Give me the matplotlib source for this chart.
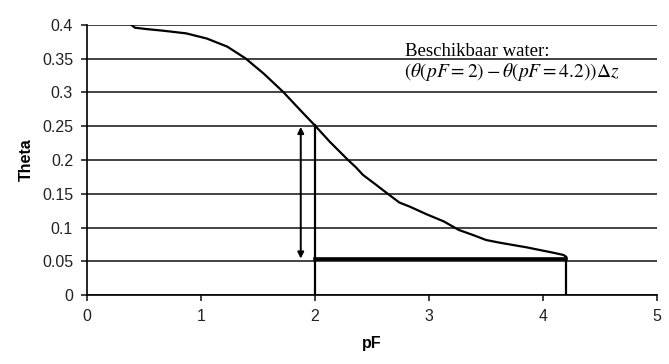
import matplotlib.pyplot as plt
import numpy as np

# retention curve
pf = [0.39, 0.42, 0.52, 0.67, 0.87, 1.05, 1.23, 1.39, 1.55, 1.72, 1.87, 2.00,
      2.13, 2.21, 2.29, 2.36, 2.42, 2.53, 2.63, 2.74, 2.83, 2.98, 3.13, 3.26,
      3.40, 3.50, 3.62, 3.74, 3.86, 3.97, 4.08, 4.18, 4.20]
theta = [0.400, 0.396, 0.394, 0.3915, 0.3876, 0.380, 0.368, 0.3506, 0.328,
         0.301, 0.274, 0.251, 0.227, 0.2135, 0.200, 0.189, 0.178, 0.164,
         0.151, 0.137, 0.131, 0.1195, 0.109, 0.0965, 0.088, 0.0815, 0.0775,
         0.074, 0.0705, 0.0667, 0.063, 0.0593, 0.0568]

pf_fc = 2.0
pf_wp = 4.2
theta_fc = 0.252
theta_wp = 0.053
arrow_x = 1.875

plt.rcParams.update({'font.family': ['Liberation Sans', 'DejaVu Sans'],
                     'mathtext.fontset': 'stix'})

fig = plt.figure(figsize=(6.69, 3.64), dpi=100)
ax = fig.add_axes([87 / 669, 1 - 295 / 364, 570 / 669, 270 / 364])

ax.plot(pf, theta, color='black', lw=1.6, solid_joinstyle='round')

# available water box
ax.plot([pf_fc, pf_fc], [0, theta_fc], color='black', lw=1.6)
ax.plot([pf_wp, pf_wp], [0, 0.0568], color='black', lw=1.6)
ax.plot([pf_fc, pf_wp], [theta_wp, theta_wp], color='black', lw=2.6)
ax.annotate('', xy=(arrow_x, 0.054), xytext=(arrow_x, 0.249),
            arrowprops=dict(arrowstyle='<|-|>', color='black', lw=1.4,
                            mutation_scale=9, shrinkA=0, shrinkB=0))

ax.text(2.79, 0.361, 'Beschikbaar water:', family='Liberation Serif',
        fontsize=13.5, va='center')
ax.text(2.78, 0.330, r'$(\theta(pF=2)-\theta(pF=4.2))\Delta z$',
        fontsize=14, va='center')

ax.set_xlim(0, 5)
ax.set_ylim(0, 0.4)
ax.set_xticks(np.arange(0, 6, 1))
ax.set_yticks(np.arange(0, 0.41, 0.05))
ax.set_yticklabels(['0', '0.05', '0.1', '0.15', '0.2', '0.25', '0.3', '0.35', '0.4'])
ax.grid(axis='y', color='#222222', lw=1.2)
ax.set_axisbelow(True)
ax.spines['top'].set_visible(False)
ax.spines['right'].set_visible(False)
ax.spines['left'].set_linewidth(1.2)
ax.spines['bottom'].set_linewidth(1.2)
ax.tick_params(labelsize=11.5, length=4, width=1.2, pad=6, colors='#222222')
ax.set_xlabel('pF', fontweight='bold', fontsize=11.5, labelpad=9)
ax.set_ylabel('Theta', fontweight='bold', fontsize=11.5, labelpad=6)

plt.savefig('out.png', dpi=100)
